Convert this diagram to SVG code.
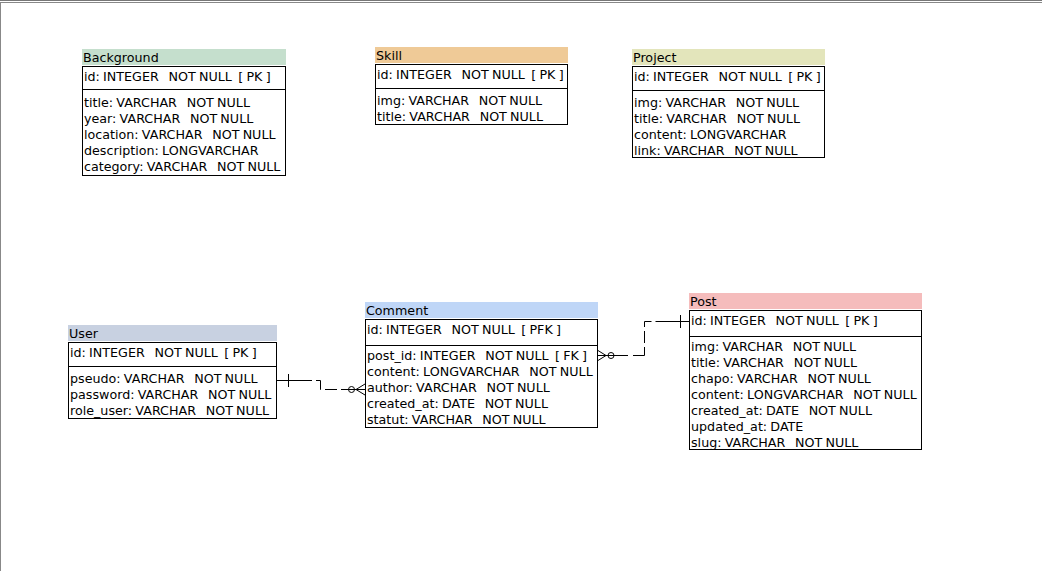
<svg xmlns="http://www.w3.org/2000/svg" width="1042" height="571" viewBox="0 0 1042 571">
<style>
text{font-family:"DejaVu Sans","Liberation Sans",sans-serif;font-size:12.7px;fill:#000;white-space:pre;word-spacing:-0.8px}
.box{fill:#fff;stroke:#000;stroke-width:1}
.sep{stroke:#000;stroke-width:1}
.conn{fill:none;stroke:#000;stroke-width:1}
</style>
<rect x="0" y="0" width="1042" height="571" fill="#fff"/>
<line x1="0" y1="0.5" x2="1042" y2="0.5" stroke="#777"/>
<line x1="0" y1="2.5" x2="1042" y2="2.5" stroke="#888"/>
<line x1="0.5" y1="2" x2="0.5" y2="571" stroke="#888"/>

<g id="background">
<rect x="82" y="49" width="204" height="16" fill="#c5dfcd"/>
<text x="83" y="62">Background</text>
<rect class="box" x="82.5" y="66.5" width="203" height="109"/>
<line class="sep" x1="82" y1="89.5" x2="286" y2="89.5"/>
<text x="84" y="81">id: INTEGER   NOT NULL  [ PK ]</text>
<text x="84" y="107">title: VARCHAR   NOT NULL</text>
<text x="84" y="123">year: VARCHAR   NOT NULL</text>
<text x="84" y="139">location: VARCHAR   NOT NULL</text>
<text x="84" y="155">description: LONGVARCHAR</text>
<text x="84" y="171">category: VARCHAR   NOT NULL</text>
</g>

<g id="skill">
<rect x="375" y="47" width="193" height="16" fill="#efca97"/>
<text x="376" y="60">Skill</text>
<rect class="box" x="375.5" y="64.5" width="192" height="60"/>
<line class="sep" x1="375" y1="88.5" x2="568" y2="88.5"/>
<text x="377" y="79">id: INTEGER   NOT NULL  [ PK ]</text>
<text x="377" y="105">img: VARCHAR   NOT NULL</text>
<text x="377" y="121">title: VARCHAR   NOT NULL</text>
</g>

<g id="project">
<rect x="632" y="49" width="193" height="16" fill="#e3e5bb"/>
<text x="633" y="62">Project</text>
<rect class="box" x="632.5" y="66.5" width="192" height="91"/>
<line class="sep" x1="632" y1="90.5" x2="825" y2="90.5"/>
<text x="634" y="81">id: INTEGER   NOT NULL  [ PK ]</text>
<text x="634" y="107">img: VARCHAR   NOT NULL</text>
<text x="634" y="123">title: VARCHAR   NOT NULL</text>
<text x="634" y="139">content: LONGVARCHAR</text>
<text x="634" y="155">link: VARCHAR   NOT NULL</text>
</g>

<g id="user">
<rect x="68" y="325" width="209" height="16" fill="#c8d1e1"/>
<text x="69" y="338">User</text>
<rect class="box" x="68.5" y="342.5" width="208" height="76"/>
<line class="sep" x1="68" y1="366.5" x2="277" y2="366.5"/>
<text x="70" y="357">id: INTEGER   NOT NULL  [ PK ]</text>
<text x="70" y="383">pseudo: VARCHAR   NOT NULL</text>
<text x="70" y="399">password: VARCHAR   NOT NULL</text>
<text x="70" y="415">role_user: VARCHAR   NOT NULL</text>
</g>

<g id="comment">
<rect x="365" y="302" width="233" height="16" fill="#bfd6f7"/>
<text x="366" y="315">Comment</text>
<rect class="box" x="365.5" y="319.5" width="232" height="108"/>
<line class="sep" x1="365" y1="345.5" x2="598" y2="345.5"/>
<text x="367" y="334">id: INTEGER   NOT NULL  [ PFK ]</text>
<text x="367" y="360">post_id: INTEGER   NOT NULL  [ FK ]</text>
<text x="367" y="376">content: LONGVARCHAR   NOT NULL</text>
<text x="367" y="392">author: VARCHAR   NOT NULL</text>
<text x="367" y="408">created_at: DATE   NOT NULL</text>
<text x="367" y="424">statut: VARCHAR   NOT NULL</text>
</g>

<g id="post">
<rect x="689" y="293" width="233" height="16" fill="#f5bcbc"/>
<text x="690" y="306">Post</text>
<rect class="box" x="689.5" y="310.5" width="232" height="139"/>
<line class="sep" x1="689" y1="336.5" x2="922" y2="336.5"/>
<text x="691" y="325">id: INTEGER   NOT NULL  [ PK ]</text>
<text x="691" y="351">img: VARCHAR   NOT NULL</text>
<text x="691" y="367">title: VARCHAR   NOT NULL</text>
<text x="691" y="383">chapo: VARCHAR   NOT NULL</text>
<text x="691" y="399">content: LONGVARCHAR   NOT NULL</text>
<text x="691" y="415">created_at: DATE   NOT NULL</text>
<text x="691" y="431">updated_at: DATE</text>
<text x="691" y="447">slug: VARCHAR   NOT NULL</text>
</g>

<g id="connectors">
<!-- User -> Comment -->
<path class="conn" d="M277,380.5 H312"/>
<line class="conn" x1="288.5" y1="374" x2="288.5" y2="387"/>
<path class="conn" d="M316,380.5 H320.5 V389.5 H321"/>
<path class="conn" d="M325,389.5 H337"/>
<path class="conn" d="M341,389.5 H365"/>
<circle class="conn" cx="351.5" cy="389.5" r="3"/>
<path class="conn" d="M365,384 L356,389.5 L365,395"/>
<!-- Comment -> Post -->
<path class="conn" d="M598,350.5 L606,355.5 L598,360.5"/>
<path class="conn" d="M598,355.5 H628"/>
<circle class="conn" cx="611" cy="355.5" r="3"/>
<path class="conn" d="M633,355.5 H644.5 V347"/>
<path class="conn" d="M644.5,343 V331"/>
<path class="conn" d="M644.5,327 V321.5 H651.5"/>
<path class="conn" d="M655.5,321.5 H689"/>
<line class="conn" x1="680.5" y1="315" x2="680.5" y2="328"/>
</g>
</svg>
